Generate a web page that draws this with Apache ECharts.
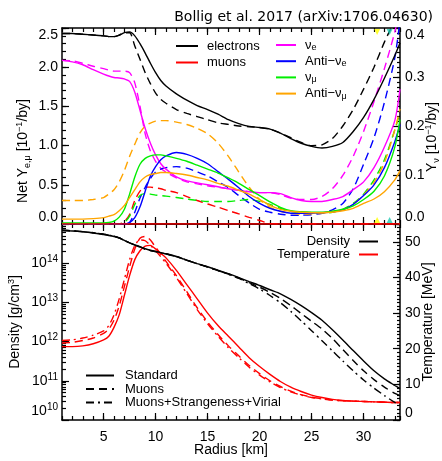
<!DOCTYPE html>
<html><head><meta charset="utf-8">
<script src="https://cdn.jsdelivr.net/npm/echarts@6/dist/echarts.min.js"></script>
<style>html,body{margin:0;padding:0;background:#fff}#c{width:442px;height:461px}</style>
</head><body><div id="c"></div>
<script>
// ---------- data ----------
const radius = [1,2,3,4,5,5.5,6,6.5,7,7.5,8,8.5,9,9.5,10,10.5,11,12,13,14,15,16,17,18,19,20,21,22,23,24,25,26,27,28,29,30,31,32,33,33.5];

// Net Y (left axis, 10^-1/by)
const electronsStd = [2.43,2.43,2.42,2.41,2.40,2.39,2.39,2.41,2.44,2.45,2.40,2.30,2.18,2.05,1.93,1.83,1.76,1.66,1.58,1.51,1.46,1.40,1.33,1.28,1.245,1.23,1.21,1.16,1.09,1.03,0.99,0.97,0.99,1.04,1.18,1.36,1.59,1.86,2.15,2.31];
const electronsMuons = [2.43,2.43,2.42,2.41,2.40,2.39,2.39,2.41,2.44,2.44,2.27,2.10,1.93,1.79,1.67,1.59,1.54,1.46,1.41,1.37,1.33,1.29,1.27,1.25,1.24,1.23,1.21,1.16,1.10,1.04,1.00,1.01,1.09,1.25,1.46,1.72,2.00,2.32,2.60,2.75];
const muonsStd = [0,0,0,0,0,0,0,0,0,0,0,0,0,0,0,0,0,0,0,0,0,0,0,0,0,0,0,0,0,0,0,0,0,0,0,0,0,0,0,0];
const muonsMuons = [0,0,0,0,0,0,0,0,0.03,0.12,0.30,0.42,0.47,0.47,0.46,0.45,0.43,0.40,0.35,0.30,0.255,0.215,0.17,0.13,0.085,0.045,0.005,0,0,0,0,0,0,0,0,0,0,0,0,0];

// Y_nu (right axis, 10^-1/by)
const nueStd = [0.334,0.331,0.325,0.315,0.306,0.302,0.299,0.298,0.296,0.291,0.269,0.232,0.195,0.165,0.141,0.123,0.112,0.096,0.088,0.084,0.080,0.076,0.072,0.069,0.066,0.064,0.064,0.062,0.054,0.048,0.046,0.046,0.050,0.056,0.070,0.086,0.115,0.157,0.211,0.275];
const nueMuons = [0.334,0.333,0.328,0.322,0.317,0.314,0.312,0.312,0.312,0.309,0.288,0.240,0.184,0.149,0.128,0.114,0.106,0.094,0.086,0.082,0.078,0.075,0.072,0.069,0.066,0.064,0.064,0.060,0.053,0.050,0.050,0.056,0.072,0.099,0.138,0.189,0.250,0.317,0.392,0.440];
const anueStd = [0,0,0,0,0,0,0,0,0,0.003,0.013,0.035,0.067,0.098,0.117,0.131,0.139,0.146,0.142,0.134,0.123,0.107,0.091,0.074,0.056,0.042,0.032,0.026,0.022,0.022,0.022,0.023,0.025,0.029,0.040,0.058,0.080,0.115,0.168,0.203];
const anueMuons = [0,0,0,0,0,0,0,0,0,0.003,0.024,0.053,0.075,0.093,0.106,0.112,0.115,0.117,0.114,0.106,0.098,0.086,0.074,0.058,0.043,0.030,0.024,0.020,0.018,0.018,0.019,0.022,0.029,0.042,0.072,0.122,0.176,0.248,0.339,0.416];
const numuStd = [0.002,0.002,0.002,0.002,0.002,0.003,0.006,0.014,0.030,0.061,0.096,0.122,0.134,0.139,0.141,0.141,0.139,0.134,0.128,0.120,0.112,0.104,0.094,0.083,0.070,0.058,0.045,0.034,0.027,0.025,0.024,0.024,0.026,0.030,0.037,0.050,0.067,0.098,0.157,0.213];
const numuMuons = [0,0,0,0,0,0,0,0,0.003,0.016,0.040,0.058,0.062,0.061,0.059,0.058,0.057,0.054,0.051,0.048,0.046,0.046,0.046,0.048,0.050,0.046,0.040,0.032,0.026,0.022,0.022,0.022,0.024,0.030,0.042,0.061,0.090,0.131,0.192,0.227];
const anumuStd = [0.010,0.010,0.010,0.011,0.013,0.016,0.019,0.027,0.038,0.054,0.070,0.086,0.096,0.101,0.103,0.105,0.105,0.103,0.100,0.095,0.090,0.083,0.077,0.069,0.061,0.050,0.038,0.030,0.026,0.024,0.023,0.023,0.024,0.027,0.032,0.042,0.051,0.066,0.090,0.109];
const anumuMuons = [0.048,0.048,0.048,0.050,0.054,0.061,0.070,0.086,0.109,0.138,0.163,0.186,0.200,0.206,0.210,0.211,0.211,0.208,0.203,0.195,0.184,0.165,0.138,0.106,0.075,0.050,0.034,0.026,0.022,0.020,0.021,0.022,0.025,0.029,0.040,0.059,0.085,0.125,0.192,0.235];

// Density (g/cm^3)
const densStd = [6.76e14,6.61e14,6.31e14,5.89e14,5.37e14,5.1e14,4.8e14,4.4e14,3.8e14,3.3e14,2.95e14,2.63e14,2.34e14,2.14e14,2.0e14,1.86e14,1.74e14,1.48e14,1.2e14,9.8e13,8.1e13,6.6e13,5.4e13,4.3e13,3.4e13,2.7e13,2.1e13,1.66e13,1.2e13,8.3e12,5.5e12,3.5e12,2.0e12,1.1e12,5.9e11,3.2e11,1.8e11,1.12e11,7.6e10,6.3e10];
const densMuons = [6.9e14,6.7e14,6.4e14,6.0e14,5.5e14,5.2e14,4.9e14,4.4e14,3.8e14,3.3e14,2.9e14,2.6e14,2.3e14,2.1e14,1.97e14,1.85e14,1.73e14,1.47e14,1.19e14,9.7e13,8.0e13,6.5e13,5.3e13,4.2e13,3.2e13,2.45e13,1.8e13,1.26e13,8.3e12,5.2e12,3.3e12,2.1e12,1.2e12,6.3e11,3.3e11,1.8e11,1.07e11,6.9e10,4.8e10,4.2e10];
const densMSV = [6.9e14,6.7e14,6.4e14,6.0e14,5.5e14,5.2e14,4.9e14,4.4e14,3.8e14,3.3e14,2.9e14,2.6e14,2.3e14,2.1e14,1.97e14,1.85e14,1.73e14,1.47e14,1.19e14,9.7e13,8.0e13,6.5e13,5.2e13,4.1e13,3.0e13,2.2e13,1.5e13,9.8e12,5.9e12,3.4e12,1.9e12,1.05e12,5.8e11,3.2e11,1.8e11,1.05e11,6.5e10,4.2e10,2.8e10,2.4e10];

// Temperature (MeV)
const tempStd = [20.6,20.6,20.8,21.4,22.5,23.5,26,29.5,35,40.5,45,47.5,48.8,49,48,46.8,45.5,42,38,34,30,26.5,23.5,20.5,17.5,15,12.8,10.8,9.2,8,7,6.3,5.8,5.5,5.3,5.2,5.1,5.0,4.9,4.9];
const tempMuons = [21.6,21.8,22.3,23,24.3,25.5,28,32,37.5,43,48,51,51.5,50.5,48.5,46.5,44.5,40.5,36,31.5,27.5,24,20.8,18,15.3,13,11,9.4,8.1,7.1,6.4,6,5.6,5.4,5.3,5.2,5.1,5.0,4.9,4.9];
const tempMSV = [22.3,22.5,23,23.8,25,26.5,29.5,34,39.5,45,49,50.5,50.3,49,47.5,45.8,44,40,35.5,31,27,23.5,20.3,17.5,14.8,12.6,10.7,9.1,7.9,7,6.3,5.9,5.6,5.4,5.3,5.2,5.1,5.0,4.9,4.9];

// axis ticks
const xTicks = [5,10,15,20,25,30];
const markerRadius = [31.3, 32.5];

// ---------- styles ----------
const markerColors = ['#ffff00', '#1fc8b2'];
const F = "'Liberation Sans', Arial, Helvetica, sans-serif";
const TICK = {color:'#000', width:1.2};
const AXL = {show:true, onZero:false, lineStyle:{color:'#000', width:1.5}};
const DASH = [8,5];
const DASHDOT = [8,4,2,4];
const LW = 1.4;

const pairs = ys => radius.map((r,i)=>[r, ys[i]]);
function ln(name, ys, color, type, xi, yi, z) {
  return {name, type:'line', xAxisIndex:xi, yAxisIndex:yi, data: pairs(ys),
    symbol:'none', smooth:0.25, clip:true, silent:true, z: z||2,
    lineStyle:{color, width:LW, type}, itemStyle:{color}};
}

const sub = {fontSize:9, lineHeight:8, verticalAlign:'bottom', fontFamily:F, color:'#000'};
const sup = {fontSize:9, lineHeight:8, verticalAlign:'top', fontFamily:F, color:'#000'};
const nrm = (fs) => ({fontSize:fs, lineHeight:17, fontFamily:F, color:'#000'});

// ---------- axes ----------
const xAxes = [];
[0,1].forEach(g => {
  ['bottom','top'].forEach(pos => {
    const lab = (g===1 && pos==='bottom');
    xAxes.push({gridIndex:g, type:'value', min:1, max:33.5, position:pos,
      axisLine:AXL, axisTick:{show:true, inside:true, length:7, customValues:xTicks, lineStyle:TICK},
      axisLabel:{show:lab, customValues:xTicks, color:'#000', fontFamily:F, fontSize:14, margin:10},
      splitLine:{show:false},
      name: lab ? 'Radius [km]' : '', nameLocation:'middle', nameGap:23, nameMoveOverlap:false,
      nameTextStyle:{fontFamily:F, fontSize:14, color:'#000'}});
    xAxes.push({gridIndex:g, type:'value', min:1, max:33.5, interval:1, position:pos,
      axisLine:{show:false, onZero:false}, axisTick:{show:true, inside:true, length:4, lineStyle:TICK},
      axisLabel:{show:false}, splitLine:{show:false}});
  });
});

const densMinor = [];
for (let n=10; n<15; n++) for (let k=2; k<10; k++) densMinor.push(n + Math.log10(k));

const yAxes = [
  {gridIndex:0, type:'value', min:0, max:2.5, interval:0.5, position:'left',
   axisLine:AXL, axisTick:{show:true, inside:true, length:7, lineStyle:TICK},
   axisLabel:{color:'#000', fontFamily:F, fontSize:14, margin:4, formatter:v=>v.toFixed(1),
     verticalAlignMinLabel:'bottom', verticalAlignMaxLabel:'top'},
   splitLine:{show:false},
   name:'{n|Net Y}{b|e,μ}{n| [10}{p|−1}{n|/by]}', nameLocation:'middle', nameRotate:90, nameGap:30, nameMoveOverlap:false,
   nameTextStyle:{padding:[0,50,0,0], rich:{n:nrm(14), b:sub, p:sup}}},
  {gridIndex:0, type:'value', min:0, max:2.5, interval:0.1, position:'left',
   axisLine:{show:false, onZero:false}, axisTick:{show:true, inside:true, length:4, lineStyle:TICK},
   axisLabel:{show:false}, splitLine:{show:false}},
  {gridIndex:0, type:'value', min:0, max:0.4, interval:0.1, position:'right',
   axisLine:AXL, axisTick:{show:true, inside:true, length:7, lineStyle:TICK},
   axisLabel:{color:'#000', fontFamily:F, fontSize:14, margin:5, formatter:v=>v.toFixed(1),
     verticalAlignMinLabel:'bottom', verticalAlignMaxLabel:'top'},
   splitLine:{show:false},
   name:'{n|Y}{b|ν}{n| [10}{p|−1}{n|/by]}', nameLocation:'middle', nameRotate:90, nameGap:24, nameMoveOverlap:false,
   nameTextStyle:{padding:[0,22,0,0], rich:{n:nrm(14), b:sub, p:sup}}},
  {gridIndex:0, type:'value', min:0, max:0.4, interval:0.01, position:'right',
   axisLine:{show:false, onZero:false}, axisTick:{show:true, inside:true, length:3, lineStyle:TICK},
   axisLabel:{show:false}, splitLine:{show:false}},
  {gridIndex:1, type:'log', logBase:10, min:1e10, max:1e15, position:'left',
   axisLine:AXL, axisTick:{show:true, inside:true, length:7, lineStyle:TICK},
   axisLabel:{color:'#000', fontFamily:F, margin:4, showMaxLabel:false,
     formatter:v=>'{t|10}{e|'+Math.round(Math.log10(v))+'}',
     rich:{t:{fontSize:14, lineHeight:18, fontFamily:F, color:'#000'}, e:{fontSize:10, lineHeight:9, verticalAlign:'top', fontFamily:F, color:'#000'}},
     verticalAlignMinLabel:'bottom'},
   splitLine:{show:false},
   name:'{n|Density [g/cm}{p|3}{n|]}', nameLocation:'middle', nameRotate:90, nameGap:38, nameMoveOverlap:false,
   nameTextStyle:{rich:{n:nrm(14), p:sup}}},
  {gridIndex:1, type:'value', min:10, max:15, position:'left',
   axisLine:{show:false, onZero:false}, axisTick:{show:true, inside:true, length:4, customValues:densMinor, lineStyle:TICK},
   axisLabel:{show:false}, splitLine:{show:false}},
  {gridIndex:1, type:'value', min:0, max:55, interval:10, position:'right',
   axisLine:AXL, axisTick:{show:true, inside:true, length:7, lineStyle:TICK},
   axisLabel:{color:'#000', fontFamily:F, fontSize:14, margin:5, showMaxLabel:false, verticalAlignMinLabel:'bottom'},
   splitLine:{show:false},
   name:'Temperature [MeV]', nameLocation:'middle', nameRotate:90, nameGap:21, nameMoveOverlap:false,
   nameTextStyle:{fontFamily:F, fontSize:14, color:'#000', verticalAlign:'top'}},
  {gridIndex:1, type:'value', min:0, max:55, interval:1, position:'right',
   axisLine:{show:false, onZero:false}, axisTick:{show:true, inside:true, length:3, lineStyle:TICK},
   axisLabel:{show:false}, splitLine:{show:false}}
];

// ---------- series ----------
const series = [
  ln('electrons (muons run)', electronsMuons, '#000', DASH, 0, 0),
  ln('muons (muons run)', muonsMuons, '#ff0000', DASH, 0, 0),
  ln('nu_e (muons run)', nueMuons, '#ff00ff', DASH, 0, 2),
  ln('anti_nu_e (muons run)', anueMuons, '#0000ff', DASH, 0, 2),
  ln('nu_mu (muons run)', numuMuons, '#00ee00', DASH, 0, 2),
  ln('anti_nu_mu (muons run)', anumuMuons, '#ffa500', DASH, 0, 2),
  ln('nu_e', nueStd, '#ff00ff', 'solid', 0, 2),
  ln('anti_nu_e', anueStd, '#0000ff', 'solid', 0, 2),
  ln('nu_mu', numuStd, '#00ee00', 'solid', 0, 2),
  ln('anti_nu_mu', anumuStd, '#ffa500', 'solid', 0, 2),
  ln('electrons', electronsStd, '#000', 'solid', 0, 0),
  ln('muons', muonsStd, '#ff0000', 'solid', 0, 0, 3),
  {name:'markers top', type:'scatter', xAxisIndex:0, yAxisIndex:0, silent:true, symbol:'triangle', symbolRotate:180,
   symbolSize:6, symbolOffset:[0,4], z:5,
   data: markerRadius.map((r,i)=>({value:[r,2.5], itemStyle:{color:markerColors[i]}}))},
  {name:'markers bottom', type:'scatter', xAxisIndex:0, yAxisIndex:0, silent:true, symbol:'triangle',
   symbolSize:6, symbolOffset:[0,-4], z:5,
   data: markerRadius.map((r,i)=>({value:[r,0], itemStyle:{color:markerColors[i]}}))},
  ln('Temperature (muons run)', tempMuons, '#ff0000', DASH, 4, 6),
  ln('Temperature (MSV run)', tempMSV, '#ff0000', DASHDOT, 4, 6),
  ln('Temperature', tempStd, '#ff0000', 'solid', 4, 6),
  ln('Muons', densMuons, '#000', DASH, 4, 4),
  ln('Muons+Strangeness+Virial', densMSV, '#000', DASHDOT, 4, 4),
  ln('Density', densStd, '#000', 'solid', 4, 4),
  {name:'Standard', type:'line', xAxisIndex:4, yAxisIndex:4, data:[], symbol:'none',
   lineStyle:{color:'#000', width:LW, type:'solid'}, itemStyle:{color:'#000'}}
];

const legText = {fontFamily:F, fontSize:13, color:'#000'};
const nuNames = {nu_e:'ν{s|e}', anti_nu_e:'Anti−ν{s|e}', nu_mu:'ν{s|μ}', anti_nu_mu:'Anti−ν{s|μ}'};
const noSym = {opacity:0};

const option = {
  animation:false,
  backgroundColor:'#fff',
  title:{text:'Bollig et al. 2017 (arXiv:1706.04630)', right:4, top:5,
    textStyle:{fontFamily:"'DejaVu Sans', sans-serif", fontSize:14, fontWeight:'normal', color:'#000'}},
  grid:[
    {left:62, right:42, top:28, height:196, containLabel:false, outerBoundsMode:'none'},
    {left:62, right:42, top:224, height:196, containLabel:false, outerBoundsMode:'none'}
  ],
  xAxis:xAxes, yAxis:yAxes,
  legend:[
    {data:['electrons','muons'], orient:'vertical', left:170, top:34, itemWidth:22, itemHeight:14, itemGap:2.5,
     selectedMode:false, itemStyle:noSym, textStyle:Object.assign({padding:[0,0,0,4], lineHeight:14}, legText)},
    {data:['nu_e','anti_nu_e','nu_mu','anti_nu_mu'], orient:'vertical', left:270, top:33, itemWidth:20, itemHeight:14, itemGap:2.2,
     selectedMode:false, itemStyle:noSym, formatter:n=>nuNames[n],
     textStyle:Object.assign({padding:[0,0,0,4], lineHeight:14, rich:{s:{fontSize:9, lineHeight:6, verticalAlign:'bottom', fontFamily:F, color:'#000'}}}, legText)},
    {data:['Density','Temperature'], orient:'vertical', right:58, top:230, align:'right', itemWidth:19, itemHeight:12, itemGap:0,
     selectedMode:false, itemStyle:noSym, textStyle:Object.assign({padding:[0,4,0,0], lineHeight:13}, legText)},
    {data:['Standard','Muons','Muons+Strangeness+Virial'], orient:'vertical', left:80, top:364, itemWidth:28, itemHeight:12, itemGap:0.5,
     selectedMode:false, itemStyle:noSym, textStyle:Object.assign({padding:[0,0,0,6], lineHeight:13}, legText)}
  ],
  series
};
const chart = echarts.init(document.getElementById('c'), null, {renderer:'canvas'});
chart.setOption(option);
</script></body></html>
